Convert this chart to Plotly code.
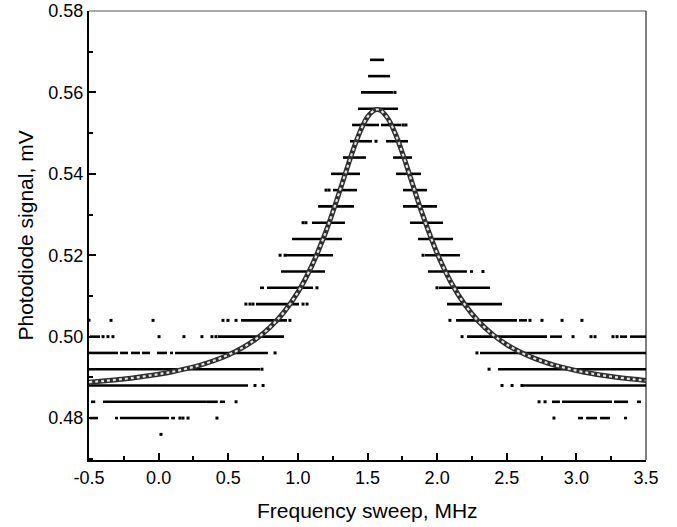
import plotly.graph_objects as go

# Measured data: horizontal runs of quantised samples (level, start, end)
seg_y = [0.568, 0.564, 0.560, 0.556,
         0.552, 0.552, 0.548, 0.548, 0.544, 0.544, 0.540, 0.540,
         0.536, 0.536, 0.532, 0.532, 0.528, 0.528, 0.524, 0.524,
         0.520, 0.520, 0.516, 0.516, 0.516,
         0.512, 0.512, 0.512, 0.508, 0.508,
         0.504, 0.504, 0.504,
         0.500, 0.500, 0.500, 0.500, 0.500, 0.500,
         0.496, 0.496, 0.496, 0.496, 0.496, 0.496, 0.496, 0.496,
         0.492, 0.492, 0.488, 0.488,
         0.484, 0.484, 0.484, 0.484, 0.484, 0.484, 0.484, 0.484, 0.484,
         0.480, 0.480, 0.480, 0.480, 0.480, 0.480, 0.480, 0.480]
seg_x0 = [1.518, 1.504, 1.453, 1.432,
          1.389, 1.597, 1.374, 1.633, 1.324, 1.683, 1.238, 1.705,
          1.252, 1.755, 1.145, 1.755, 1.101, 1.805, 0.958, 1.863,
          0.915, 1.913, 0.879, 1.934, 2.236,
          0.728, 0.778, 2.013, 0.699, 2.071,
          0.592, 2.136, 2.588,
          -0.493, 0.426, 2.215, 2.811, 3.313, 3.385,
          -0.5, -0.277, -0.198, -0.119, -0.012, 0.082, 0.118, 2.308,
          -0.5, 2.437, -0.5, 2.617,
          -0.486, -0.392, 0.347, 0.440, 2.825, 2.897, 3.270, 3.435, -0.40,
          -0.493, -0.313, -0.278, 0.090, 3.012, 3.070, 3.170, 3.342]
seg_x1 = [1.619, 1.662, 1.683, 1.719,
          1.583, 1.741, 1.532, 1.791, 1.489, 1.820, 1.446, 1.884,
          1.425, 1.927, 1.403, 1.999, 1.338, 2.042, 1.317, 2.114,
          1.252, 2.164, 1.195, 2.214, 2.258,
          0.757, 1.109, 2.380, 1.008, 2.466,
          0.922, 2.574, 2.645,
          -0.421, 0.900, 2.789, 2.897, 3.364, 3.5,
          -0.292, -0.220, -0.134, -0.062, 0.060, 0.103, 0.785, 3.5,
          0.728, 3.5, 0.642, 3.5,
          -0.455, 0.347, 0.425, 0.477, 2.882, 3.256, 3.371, 3.464, -0.392,
          -0.435, -0.292, 0.075, 0.118, 3.048, 3.148, 3.242, 3.364]

# Isolated samples
dot_x = [1.697, 1.755, 1.776, 1.561, 1.202, 1.224, 1.037, 1.058,
         0.872, 0.908, 1.899, 2.329, 1.137, 1.999,
         0.627, 0.656, 0.678, 1.037, 1.066,
         -0.5, -0.342, -0.040, 0.462, 0.498, 0.556, 0.943, 2.092, 2.667, 2.753, 2.897, 3.040,
         -0.399, -0.364, -0.328, 0.003, 0.182, 0.311, 0.383, 0.412, 2.179, 2.976, 3.105, 3.134, 3.263, 3.292,
         0.836, 2.286, 0.742, 2.373,
         0.692, 0.750, 2.466, 2.538, 2.609,
         0.556, 2.732, 2.775,
         0.153, 0.175, 0.211, 0.419, 2.839,
         0.017]
dot_y = [0.560, 0.552, 0.552, 0.548, 0.536, 0.536, 0.528, 0.528,
         0.520, 0.520, 0.520, 0.516, 0.512, 0.512,
         0.508, 0.508, 0.508, 0.508, 0.508,
         0.504, 0.504, 0.504, 0.504, 0.504, 0.504, 0.504, 0.504, 0.504, 0.504, 0.504, 0.504,
         0.500, 0.500, 0.500, 0.500, 0.500, 0.500, 0.500, 0.500, 0.500, 0.500, 0.500, 0.500, 0.500, 0.500,
         0.496, 0.496, 0.492, 0.492,
         0.488, 0.488, 0.488, 0.488, 0.488,
         0.484, 0.484, 0.484,
         0.480, 0.480, 0.480, 0.480, 0.480,
         0.476]

# Lorentzian fit curve
fit_x = [-0.5, -0.4, -0.3, -0.2, -0.1, 0.0, 0.1, 0.2, 0.3, 0.4, 0.5, 0.6, 0.7, 0.8, 0.9,
         1.0, 1.1, 1.2, 1.25, 1.3, 1.35, 1.4, 1.45, 1.5, 1.55, 1.57, 1.6, 1.65, 1.7, 1.75,
         1.8, 1.85, 1.9, 2.0, 2.1, 2.2, 2.3, 2.4, 2.5, 2.6, 2.7, 2.8, 2.9, 3.0, 3.1, 3.2,
         3.3, 3.4, 3.5]
fit_y = [0.48882, 0.48910, 0.48943, 0.48980, 0.49025, 0.49077, 0.49138, 0.49213, 0.49303,
         0.49414, 0.49551, 0.49724, 0.49945, 0.50230, 0.50603, 0.51094, 0.51740, 0.52571,
         0.53055, 0.53573, 0.54105, 0.54617, 0.55065, 0.55396, 0.55565, 0.55580, 0.55545,
         0.55341, 0.54983, 0.54518, 0.53999, 0.53467, 0.52955, 0.52049, 0.51332, 0.50783,
         0.50367, 0.50050, 0.49806, 0.49616, 0.49465, 0.49344, 0.49247, 0.49167, 0.49100,
         0.49044, 0.48997, 0.48957, 0.48923]

x_ticks = [-0.5, 0.0, 0.5, 1.0, 1.5, 2.0, 2.5, 3.0, 3.5]
y_ticks = [0.48, 0.50, 0.52, 0.54, 0.56, 0.58]

sx, sy = [], []
for y, a, b in zip(seg_y, seg_x0, seg_x1):
    sx += [a, b, None]
    sy += [y, y, None]

fig = go.Figure()
fig.add_trace(go.Scatter(x=sx, y=sy, mode="lines",
                         line=dict(color="black", width=2.6), hoverinfo="skip"))
fig.add_trace(go.Scatter(x=dot_x, y=dot_y, mode="markers",
                         marker=dict(color="black", size=3, symbol="square"),
                         hoverinfo="skip"))
fig.add_trace(go.Scatter(x=fit_x, y=fit_y, mode="lines",
                         line=dict(color="#2e2e2e", width=5, shape="spline")))
fig.add_trace(go.Scatter(x=fit_x, y=fit_y, mode="lines",
                         line=dict(color="#e4e4e4", width=2.2, shape="spline", dash="dot")))

font = "Liberation Sans, Arial, sans-serif"
fig.update_layout(
    width=677, height=527,
    margin=dict(l=89, r=31, t=11, b=67),
    paper_bgcolor="white", plot_bgcolor="white",
    showlegend=False,
    font=dict(family=font, color="black", size=18),
    xaxis=dict(range=[-0.5, 3.5], tickvals=x_ticks, ticktext=[f"{v:.1f}" for v in x_ticks],
               ticks="inside", ticklen=7, tickwidth=2, tickcolor="black",
               minor=dict(ticks="inside", dtick=0.25, tick0=-0.5, ticklen=4, tickwidth=1.5, tickcolor="black"),
               showline=True, linecolor="black", linewidth=2, showgrid=False, zeroline=False,
               tickfont=dict(size=18), automargin=False),
    yaxis=dict(range=[0.4697, 0.58], tickvals=y_ticks, ticktext=[f"{v:.2f}" for v in y_ticks],
               ticks="inside", ticklen=7, tickwidth=2, tickcolor="black",
               minor=dict(ticks="inside", dtick=0.01, tick0=0.48, ticklen=4, tickwidth=1.5, tickcolor="black"),
               showline=True, linecolor="black", linewidth=2, showgrid=False, zeroline=False,
               tickfont=dict(size=18), automargin=False),
    annotations=[
        dict(text="Frequency sweep, MHz", xref="paper", yref="paper", x=0.5, y=-0.1114,
             xanchor="center", yanchor="middle", showarrow=False, font=dict(size=21)),
        dict(text="Photodiode signal, mV", xref="paper", yref="paper", x=-0.1149, y=0.5,
             xanchor="center", yanchor="middle", textangle=-90, showarrow=False, font=dict(size=21)),
    ],
    shapes=[
        dict(type="line", xref="paper", yref="paper", x0=0, x1=1, y0=1, y1=1,
             line=dict(color="#555555", width=1)),
        dict(type="line", xref="paper", yref="paper", x0=1, x1=1, y0=0, y1=1,
             line=dict(color="black", width=1)),
    ],
)

fig.write_html("out.html", config={"displayModeBar": False},
               post_script="document.body.style.margin='0';")
